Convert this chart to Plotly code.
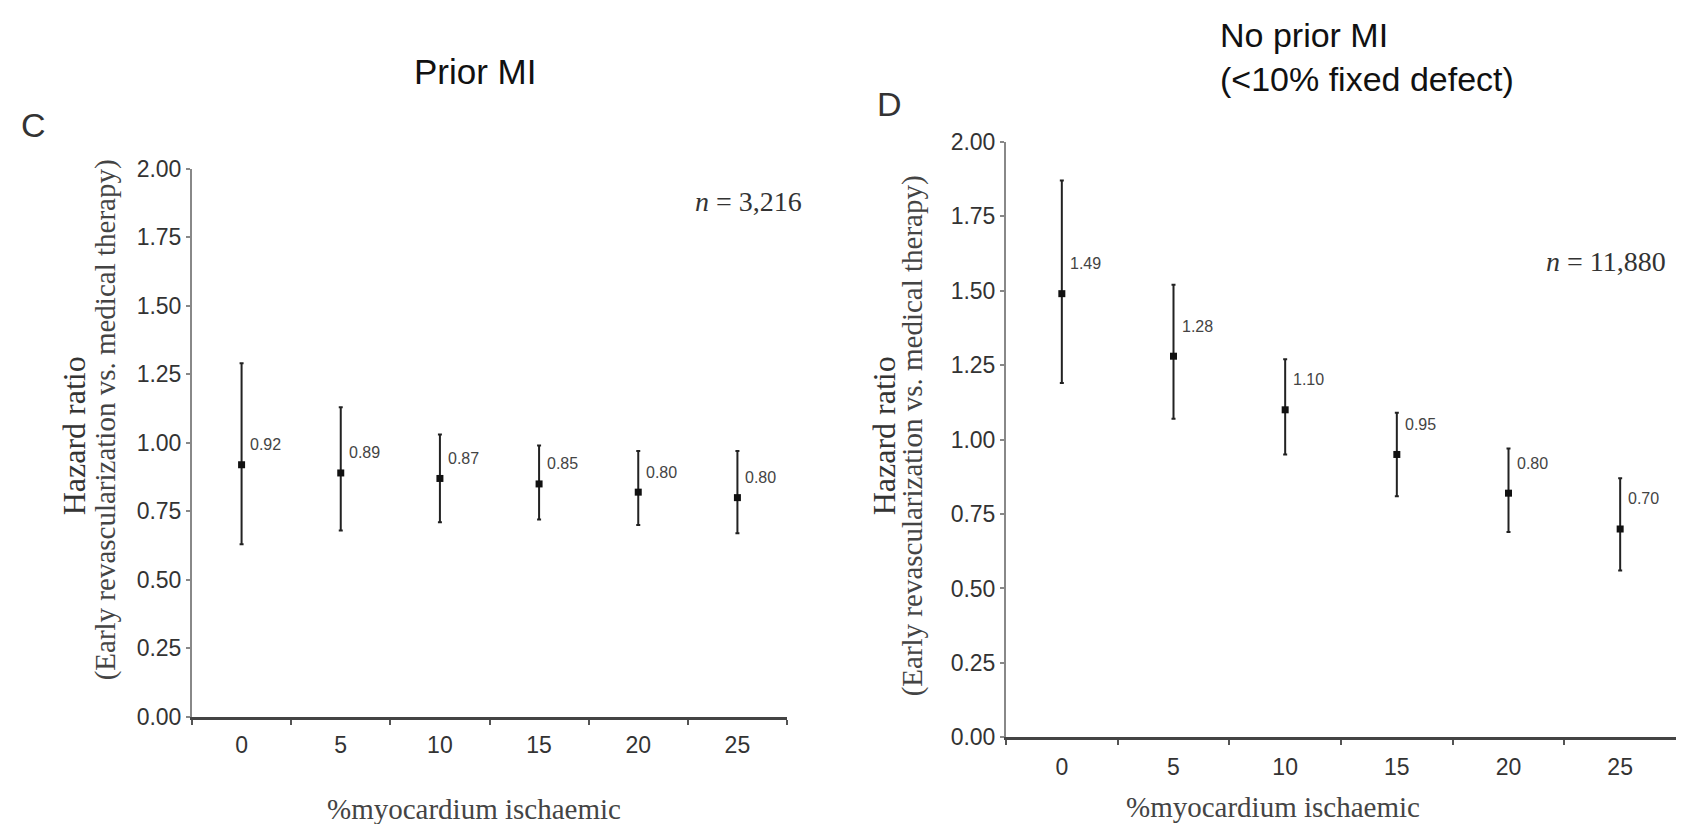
import plotly.graph_objects as go

categories = ["0", "5", "10", "15", "20", "25"]

prior_hr = [0.92, 0.89, 0.87, 0.85, 0.82, 0.80]
prior_low = [0.63, 0.68, 0.71, 0.72, 0.70, 0.67]
prior_high = [1.29, 1.13, 1.03, 0.99, 0.97, 0.97]
prior_labels = ["0.92", "0.89", "0.87", "0.85", "0.80", "0.80"]

noprior_hr = [1.49, 1.28, 1.10, 0.95, 0.82, 0.70]
noprior_low = [1.19, 1.07, 0.95, 0.81, 0.69, 0.56]
noprior_high = [1.87, 1.52, 1.27, 1.09, 0.97, 0.87]
noprior_labels = ["1.49", "1.28", "1.10", "0.95", "0.80", "0.70"]

y_ticks = [0, 0.25, 0.5, 0.75, 1.0, 1.25, 1.5, 1.75, 2.0]
y_ticktext = ["0.00", "0.25", "0.50", "0.75", "1.00", "1.25", "1.50", "1.75", "2.00"]

W, H = 1699, 824
SANS = "Liberation Sans, Arial, sans-serif"
SERIF = "Liberation Serif, Times New Roman, serif"


def px_x(p):
    return (p - 8) / W


def px_y(p):
    fy = (p - 19) / 0.97
    return 1 - fy / H


fig = go.Figure()


def add_panel(hr, low, high, xa, ya):
    fig.add_trace(go.Scatter(
        x=categories, y=hr, xaxis=xa, yaxis=ya, mode="markers",
        marker=dict(symbol="square", size=7, color="#111"),
        error_y=dict(type="data", symmetric=False,
                     array=[h - v for h, v in zip(high, hr)],
                     arrayminus=[v - l for v, l in zip(hr, low)],
                     color="#222", thickness=2, width=2),
        showlegend=False, hoverinfo="skip"))


add_panel(prior_hr, prior_low, prior_high, "x", "y")
add_panel(noprior_hr, noprior_low, noprior_high, "x2", "y2")

xcommon = dict(type="category", range=[-0.5, 5.5], tickson="boundaries",
               ticks="outside", ticklen=5, tickwidth=1.5, tickcolor="#555",
               showline=True, linecolor="#444", linewidth=2.5, showgrid=False,
               zeroline=False, tickfont=dict(family=SANS, size=23, color="#333"))
ycommon = dict(range=[0, 2], tickvals=y_ticks, ticktext=y_ticktext,
               ticks="outside", ticklen=4, tickwidth=1.5, tickcolor="#888",
               showline=True, linecolor="#888", linewidth=2, showgrid=False,
               zeroline=False, tickfont=dict(family=SANS, size=23, color="#333"))

fig.update_layout(
    width=W, height=H, paper_bgcolor="white", plot_bgcolor="white",
    margin=dict(l=0, r=0, t=0, b=0),
    xaxis=dict(domain=[px_x(192), px_x(787)], anchor="y", ticklabelstandoff=6, **xcommon),
    yaxis=dict(domain=[px_y(716), px_y(167)], anchor="x", **ycommon),
    xaxis2=dict(domain=[px_x(1006), px_x(1676)], anchor="y2", ticklabelstandoff=7, **xcommon),
    yaxis2=dict(domain=[px_y(736.5), px_y(140)], anchor="x2", **ycommon),
)

ann = []


def paper_text(text, x, y, size, family=SANS, color="#111", angle=0,
               xanchor="center", align="center", yanchor="middle"):
    ann.append(dict(text=text, x=px_x(x), y=px_y(y), xref="paper", yref="paper",
                    showarrow=False, textangle=angle, xanchor=xanchor,
                    yanchor=yanchor, align=align,
                    font=dict(family=family, size=size, color=color)))


# Titles
paper_text("Prior MI", 475, 70, 35)
paper_text("No prior MI<br>(&lt;10% fixed defect)", 1218, 55, 34,
           xanchor="left", align="left")
# Panel letters
paper_text("C", 33, 123, 34, color="#333")
paper_text("D", 889, 102, 34, color="#333")
# Y axis titles
paper_text("Hazard ratio", 74, 435, 32, family=SERIF, color="#333", angle=-90)
paper_text("(Early revascularization vs. medical therapy)", 105, 419, 29,
           family=SERIF, color="#444", angle=-90)
paper_text("Hazard ratio", 884, 435, 32, family=SERIF, color="#333", angle=-90)
paper_text("(Early revascularization vs. medical therapy)", 912, 435, 29,
           family=SERIF, color="#444", angle=-90)
# X axis titles
paper_text("%myocardium ischaemic", 474, 808, 29, family=SERIF, color="#444")
paper_text("%myocardium ischaemic", 1273, 806, 29, family=SERIF, color="#444")
# n labels
paper_text("<i>n</i> = 3,216", 748, 200, 28, family=SERIF, color="#333")
paper_text("<i>n</i> = 11,880", 1606, 260, 28, family=SERIF, color="#333")

# Value labels (category index positions)
for i, (v, t) in enumerate(zip(prior_hr, prior_labels)):
    ann.append(dict(text=t, x=i, y=v, xref="x", yref="y", showarrow=False,
                    xanchor="left", yanchor="middle", xshift=6, yshift=20,
                    font=dict(family=SANS, size=16, color="#444")))
for i, (v, t) in enumerate(zip(noprior_hr, noprior_labels)):
    ann.append(dict(text=t, x=i, y=v, xref="x2", yref="y2", showarrow=False,
                    xanchor="left", yanchor="middle", xshift=6, yshift=30,
                    font=dict(family=SANS, size=16, color="#444")))

fig.update_layout(annotations=ann)
fig.write_html("out.html")
